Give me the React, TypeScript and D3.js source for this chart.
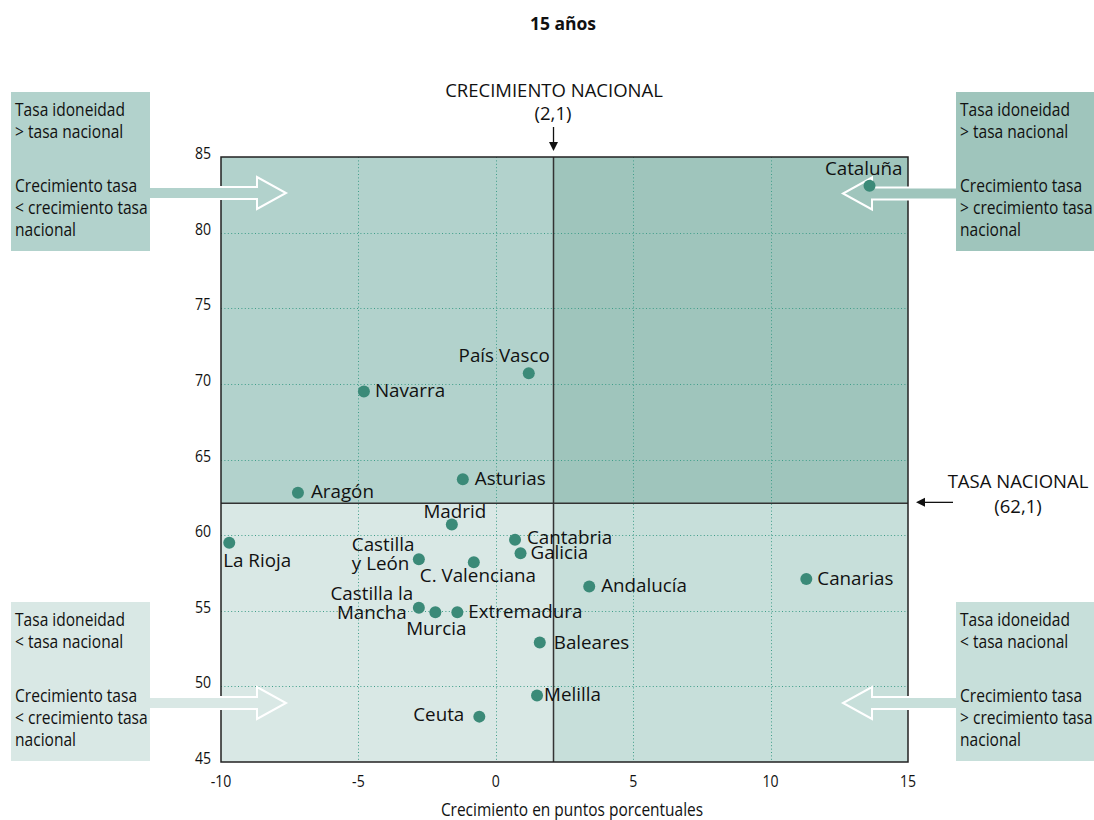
import React from 'react';
import * as d3 from 'd3';

// Regions: growth (percentage points) vs suitability rate, age 15
const regions = ['Cataluña', 'País Vasco', 'Navarra', 'Asturias', 'Aragón', 'Madrid', 'La Rioja', 'Cantabria', 'Galicia', 'Castilla y León', 'C. Valenciana', 'Andalucía', 'Canarias', 'Castilla la Mancha', 'Murcia', 'Extremadura', 'Baleares', 'Melilla', 'Ceuta'];
const growth = [13.6, 1.2, -4.8, -1.2, -7.2, -1.6, -9.7, 0.7, 0.9, -2.8, -0.8, 3.4, 11.3, -2.8, -2.2, -1.4, 1.6, 1.5, -0.6];
const rate = [83.1, 70.7, 69.5, 63.7, 62.8, 60.7, 59.5, 59.7, 58.8, 58.4, 58.2, 56.6, 57.1, 55.2, 54.9, 54.9, 52.9, 49.4, 48.0];

const NATIONAL_GROWTH = 2.1;
const NATIONAL_RATE = 62.1;
const xTicks = [-10, -5, 0, 5, 10, 15];
const yTicks = [45, 50, 55, 60, 65, 70, 75, 80, 85];

// label placement: [anchor, dx, dy, lines]
const labelPlace: Record<string, [string, number, number, string[]]> = {
  'Cataluña': ['end', 33, -11, ['Cataluña']],
  'País Vasco': ['end', 21, -11, ['País Vasco']],
  'Navarra': ['start', 11, 6, ['Navarra']],
  'Asturias': ['start', 12, 6, ['Asturias']],
  'Aragón': ['start', 13, 5, ['Aragón']],
  'Madrid': ['middle', 3, -7, ['Madrid']],
  'La Rioja': ['start', -6, 24, ['La Rioja']],
  'Cantabria': ['start', 12, 4, ['Cantabria']],
  'Galicia': ['start', 10, 6, ['Galicia']],
  'Castilla y León': ['start', -67, -8, ['Castilla', 'y León']],
  'C. Valenciana': ['start', -54, 20, ['C. Valenciana']],
  'Andalucía': ['start', 12, 5, ['Andalucía']],
  'Canarias': ['start', 11, 6, ['Canarias']],
  'Castilla la Mancha': ['middle', -47, -8, ['Castilla la', 'Mancha']],
  'Murcia': ['middle', 1, 23, ['Murcia']],
  'Extremadura': ['start', 11, 6, ['Extremadura']],
  'Baleares': ['start', 14, 6, ['Baleares']],
  'Melilla': ['start', 7, 6, ['Melilla']],
  'Ceuta': ['end', -15, 4, ['Ceuta']],
};

const boxTexts = {
  tl: ['Tasa idoneidad', '> tasa nacional', 'Crecimiento tasa', '< crecimiento tasa', 'nacional'],
  tr: ['Tasa idoneidad', '> tasa nacional', 'Crecimiento tasa', '> crecimiento tasa', 'nacional'],
  bl: ['Tasa idoneidad', '< tasa nacional', 'Crecimiento tasa', '< crecimiento tasa', 'nacional'],
  br: ['Tasa idoneidad', '< tasa nacional', 'Crecimiento tasa', '> crecimiento tasa', 'nacional'],
};

const W = 1094;
const H = 820;
const FONT = '"Open Sans", "DejaVu Sans", sans-serif';

const colors = {
  tl: '#b2d2cc',
  tr: '#9fc5bc',
  bl: '#d9e8e5',
  br: '#c7dfda',
  dot: '#3b8a78',
  grid: '#3f9d89',
  axis: '#222',
};

const CondText: React.FC<{ x: number; y: number; anchor?: string; size?: number; sx?: number; children: React.ReactNode }> = ({ x, y, anchor = 'start', size = 17, sx = 0.88, children }) => (
  <text transform={`translate(${x},${y}) scale(${sx},1)`} textAnchor={anchor} fontSize={size} fill="#111">
    {children}
  </text>
);

const App: React.FC = () => {
  const x = d3.scaleLinear().domain([-10, 15]).range([221, 908]);
  const y = d3.scaleLinear().domain([45, 85]).range([762, 157]);
  const nx = x(NATIONAL_GROWTH);
  const ny = y(NATIONAL_RATE);
  const [x0, x1] = x.range();
  const [y0, y1] = y.range();

  // block arrow from box edge to tip, open at the box side
  const arrow = (fromX: number, tipX: number, cy: number) => {
    const dir = Math.sign(tipX - fromX);
    const baseX = tipX - dir * 29;
    return `M${fromX},${cy - 6}L${baseX},${cy - 6}L${baseX},${cy - 16}L${tipX},${cy}L${baseX},${cy + 16}L${baseX},${cy + 6}L${fromX},${cy + 6}`;
  };

  const boxes: [keyof typeof boxTexts, number, number][] = [
    ['tl', 11, 92],
    ['tr', 956, 92],
    ['bl', 11, 602],
    ['br', 956, 602],
  ];
  const lineOffsets = [24, 46, 100, 122, 144];

  return (
    <svg width={W} height={H} style={{ position: 'absolute', left: 0, top: 0, fontFamily: FONT }}>
      <rect width={W} height={H} fill="#fff" />

      {/* title */}
      <text x={563} y={30} textAnchor="middle" fontSize={17.5} fontWeight="bold" fill="#111">15 años</text>

      {/* quadrants */}
      <rect x={x0} y={y1} width={nx - x0} height={ny - y1} fill={colors.tl} />
      <rect x={nx} y={y1} width={x1 - nx} height={ny - y1} fill={colors.tr} />
      <rect x={x0} y={ny} width={nx - x0} height={y0 - ny} fill={colors.bl} />
      <rect x={nx} y={ny} width={x1 - nx} height={y0 - ny} fill={colors.br} />

      {/* grid */}
      {xTicks.slice(1, -1).map(t => (
        <line key={'gx' + t} x1={Math.round(x(t)) + 0.5} x2={Math.round(x(t)) + 0.5} y1={y1} y2={y0} stroke={colors.grid} strokeWidth={1} strokeDasharray="1,2.4" />
      ))}
      {yTicks.slice(1, -1).map(t => (
        <line key={'gy' + t} x1={x0} x2={x1} y1={Math.round(y(t)) + 0.5} y2={Math.round(y(t)) + 0.5} stroke={colors.grid} strokeWidth={1} strokeDasharray="1,2.4" />
      ))}

      {/* national lines + border */}
      <line x1={nx} x2={nx} y1={y1} y2={y0} stroke="#333" strokeWidth={1.5} />
      <line x1={x0} x2={x1} y1={ny} y2={ny} stroke="#333" strokeWidth={1.5} />
      <rect x={x0} y={y1} width={x1 - x0} height={y0 - y1} fill="none" stroke={colors.axis} strokeWidth={1.5} />

      {/* ticks */}
      {yTicks.map(t => (
        <CondText key={'ty' + t} x={211} y={y(t) + 2} anchor="end" size={16}>{t}</CondText>
      ))}
      {xTicks.map(t => (
        <CondText key={'tx' + t} x={x(t)} y={787} anchor="middle" size={16}>{t}</CondText>
      ))}
      <CondText x={572} y={816} anchor="middle" size={18} sx={0.86}>Crecimiento en puntos porcentuales</CondText>

      {/* national annotations */}
      <text x={554} y={97} textAnchor="middle" fontSize={18.5} fill="#111">CRECIMIENTO NACIONAL</text>
      <text x={553} y={120} textAnchor="middle" fontSize={18.5} fill="#111">(2,1)</text>
      <line x1={nx} x2={nx} y1={127} y2={143} stroke="#111" strokeWidth={1.3} />
      <path d={`M${nx - 4.5},${142}L${nx + 4.5},${142}L${nx},${151}Z`} fill="#111" />

      <text x={1018} y={488} textAnchor="middle" fontSize={18.5} fill="#111">TASA NACIONAL</text>
      <text x={1018} y={513} textAnchor="middle" fontSize={18.5} fill="#111">(62,1)</text>
      <line x1={953} x2={924} y1={ny - 1} y2={ny - 1} stroke="#111" strokeWidth={1.3} />
      <path d={`M${925},${ny - 5.5}L${925},${ny + 3.5}L${916},${ny - 1}Z`} fill="#111" />

      {/* side boxes */}
      {boxes.map(([k, bx, by]) => (
        <g key={k}>
          <rect x={bx} y={by} width={k === 'tl' || k === 'bl' ? 139 : W - bx} height={159} fill={colors[k]} />
          {boxTexts[k].map((s, i) => (
            <CondText key={i} x={bx + 4} y={by + lineOffsets[i]} size={17.5} sx={0.89}>{s}</CondText>
          ))}
        </g>
      ))}

      {/* block arrows */}
      <path d={arrow(150, 286, 193)} fill={colors.tl} stroke="#fff" strokeWidth={2} />
      <path d={arrow(956, 843, 193.5)} fill={colors.tr} stroke="#fff" strokeWidth={2} />
      <path d={arrow(150, 286, 703)} fill={colors.bl} stroke="#fff" strokeWidth={2} />
      <path d={arrow(956, 843, 703)} fill={colors.br} stroke="#fff" strokeWidth={2} />

      {/* points */}
      {regions.map((r, i) => (
        <circle key={'p' + r} cx={x(growth[i])} cy={y(rate[i])} r={6} fill={colors.dot} />
      ))}
      {regions.map((r, i) => {
        const [anchor, dx, dy, lines] = labelPlace[r];
        return (
          <text key={'l' + r} x={x(growth[i]) + dx} y={y(rate[i]) + dy} textAnchor={anchor} fontSize={18.8} fill="#111">
            {lines.map((ln, j) => (
              <tspan key={j} x={x(growth[i]) + dx} dy={j === 0 ? 0 : 19}>{ln}</tspan>
            ))}
          </text>
        );
      })}
    </svg>
  );
};

export default App;
